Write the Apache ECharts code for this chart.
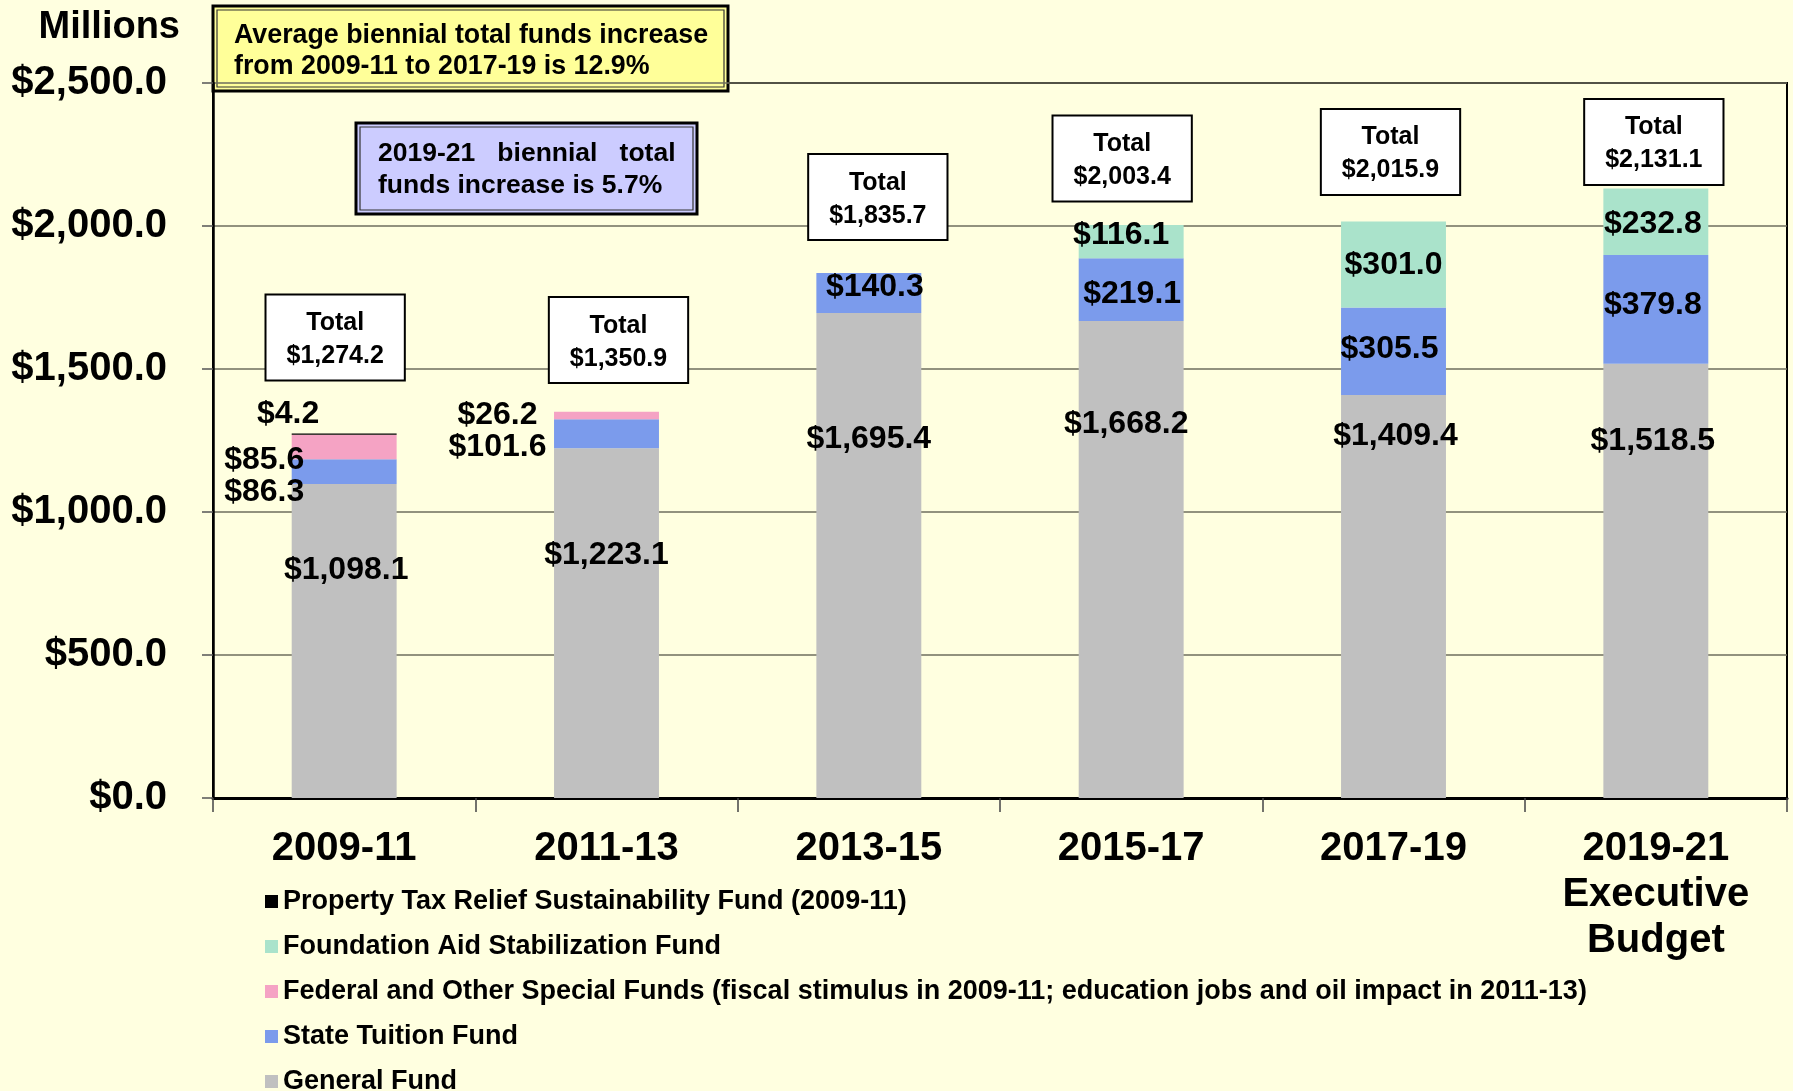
<!DOCTYPE html>
<html>
<head>
<meta charset="utf-8">
<script src="https://cdn.jsdelivr.net/npm/echarts@6/dist/echarts.min.js"></script>
<style>
  html, body { margin: 0; padding: 0; background: #FFFFE0; }
  #chart { width: 1793px; height: 1091px; }
</style>
</head>
<body>
<div id="chart"></div>
<script>
const chart = echarts.init(document.getElementById("chart"));

// biennia
const categories = ['2009-11', '2011-13', '2013-15', '2015-17', '2017-19', '2019-21\nExecutive\nBudget'];

// millions of dollars, stacked bottom to top
const generalFund = [1098.1, 1223.1, 1695.4, 1668.2, 1409.4, 1518.5];
const stateTuition = [86.3, 101.6, 140.3, 219.1, 305.5, 379.8];
const federalFunds = [85.6, 26.2, '-', '-', '-', '-'];
const foundationAid = ['-', '-', '-', 116.1, 301.0, 232.8];
const propertyTax = [4.2, '-', '-', '-', '-', '-'];
const totals = [1274.2, 1350.9, 1835.7, 2003.4, 2015.9, 2131.1];

const yTicks = [0, 500, 1000, 1500, 2000, 2500];

const names = {
    general: 'General Fund',
    tuition: 'State Tuition Fund',
    federal: 'Federal and Other Special Funds (fiscal stimulus in 2009-11; education jobs and oil impact in 2011-13)',
    foundation: 'Foundation Aid Stabilization Fund',
    property: 'Property Tax Relief Sustainability Fund (2009-11)'
};

// where the labels sit relative to the segment centre (px), like the original slide
const generalShift = [[2, -71], [0, -68], [0, -116], [-5, -135], [2, -160], [-3, -140]];
const tuitionShift = [[-80, 21], [-109, 14], [6, -6], [1, 5], [-4, -2], [-3, -4]];
const federalShift = [[-80, 13], [-109, 0]];
const foundationShift = [null, null, null, [-10, -6], [0, 1], [-3, 2]];
const propertyShift = [[-56, -20]];
// centre of the "Total" boxes, in axis units, and horizontal nudge
const totalBoxAt = [1610, 1601, 2101, 2236, 2259, 2294];
const totalBoxDx = [-9, 12, 9, -9, -3, -2];

const FONT = "'Liberation Sans', Arial, sans-serif";

function money(v) {
    return '$' + Number(v).toLocaleString('en-US', {minimumFractionDigits: 1, maximumFractionDigits: 1});
}

function withShift(values, shifts) {
    return values.map(function (v, i) {
        if (v === '-') return '-';
        let s = shifts[i];
        return s ? {value: v, label: {offset: s}} : {value: v};
    });
}

function barSeries(name, values, shifts, color) {
    return {
        name: name,
        type: 'bar',
        stack: 'funds',
        barWidth: '40%',
        data: withShift(values, shifts),
        itemStyle: {color: color},
        label: {
            show: true,
            position: 'inside',
            fontFamily: FONT,
            fontSize: 32,
            fontWeight: 'bold',
            color: '#000',
            formatter: function (p) { return money(p.value); }
        },
        emphasis: {disabled: true}
    };
}

function doubleBox(x, y, w, h, fill, lines, tx, ty, lh, fs) {
    let children = [
        {type: 'rect', shape: {x: x, y: y, width: w, height: h},
         style: {fill: fill, stroke: '#000', lineWidth: 3}},
        {type: 'rect', shape: {x: x + 4, y: y + 4, width: w - 8, height: h - 8},
         style: {fill: 'none', stroke: '#333', lineWidth: 1.2}}
    ];
    lines.forEach(function (t, i) {
        children.push({type: 'text', x: tx, y: ty + i * lh,
            style: {text: t, fill: '#000', fontFamily: FONT, fontSize: fs, fontWeight: 'bold',
                    verticalAlign: 'middle'}});
    });
    return {type: 'group', z: 100, children: children};
}

chart.setOption({
    backgroundColor: '#FFFFE0',
    animation: false,
    textStyle: {fontFamily: FONT},
    grid: {
        left: 213, right: 6, top: 83, bottom: 293,
        show: true, borderColor: '#000', borderWidth: 2, backgroundColor: 'transparent'
    },
    legend: {
        orient: 'vertical',
        left: 265,
        top: 888,
        height: 260,
        padding: 0,
        itemGap: 18,
        itemWidth: 13,
        itemHeight: 13,
        itemTextGap: 9,
        icon: 'rect',
        selectedMode: false,
        textStyle: {fontFamily: FONT, fontSize: 27, fontWeight: 'bold', color: '#000', lineHeight: 26},
        data: [names.property, names.foundation, names.federal, names.tuition, names.general]
    },
    xAxis: {
        type: 'category',
        data: categories,
        axisLine: {lineStyle: {color: '#000', width: 3}},
        axisTick: {show: true, interval: 0, length: 14, lineStyle: {color: '#444', width: 1.5}},
        axisLabel: {
            interval: 0, margin: 28,
            fontFamily: FONT, fontSize: 40, fontWeight: 'bold', color: '#000', lineHeight: 46
        }
    },
    yAxis: {
        type: 'value',
        min: yTicks[0],
        max: yTicks[yTicks.length - 1],
        interval: yTicks[1] - yTicks[0],
        name: 'Millions',
        nameLocation: 'end',
        nameGap: 0,
        nameTextStyle: {fontFamily: FONT, fontSize: 38, fontWeight: 'bold', color: '#000',
                        align: 'right', verticalAlign: 'bottom', padding: [0, 33, 36, 0]},
        axisLine: {show: true, lineStyle: {color: '#000', width: 2.5}},
        axisTick: {show: true, length: 11, lineStyle: {color: '#555', width: 1.5}},
        axisLabel: {
            margin: 46,
            fontFamily: FONT, fontSize: 40, fontWeight: 'bold', color: '#000',
            formatter: function (v) { return money(v); }
        },
        splitLine: {show: true, lineStyle: {color: '#6e6e5e', width: 1.5}}
    },
    series: [
        barSeries(names.general, generalFund, generalShift, '#C0C0C0'),
        barSeries(names.tuition, stateTuition, tuitionShift, '#7B9BEC'),
        barSeries(names.federal, federalFunds, federalShift, '#F5A3C4'),
        barSeries(names.foundation, foundationAid, foundationShift, '#AAE3CB'),
        barSeries(names.property, propertyTax, propertyShift, '#000000'),
        {
            name: 'totals',
            type: 'scatter',
            symbolSize: 0,
            z: 20,
            itemStyle: {opacity: 1},
            data: totals.map(function (t, i) {
                return {value: [i, totalBoxAt[i]], label: {offset: [totalBoxDx[i], 0]}};
            }),
            label: {
                show: true,
                position: 'inside',
                align: 'center',
                backgroundColor: '#FFFFFF',
                borderColor: '#000',
                borderWidth: 2,
                padding: [11, 20, 7, 20],
                formatter: function (p) { return '{t|Total}\n{t|' + money(totals[p.dataIndex]) + '}'; },
                rich: {
                    t: {fontFamily: FONT, fontSize: 25, fontWeight: 'bold', color: '#000',
                        lineHeight: 33, align: 'center'}
                }
            },
            emphasis: {disabled: true},
            tooltip: {show: false}
        }
    ],
    graphic: [
        doubleBox(213, 6, 515, 85, '#FFFF99',
            ['Average biennial total funds increase', 'from 2009-11 to 2017-19 is 12.9%'], 234, 36, 31, 26.8),
        doubleBox(356, 123, 341, 91, '#CCCCFF',
            ['2019-21   biennial   total', 'funds increase is 5.7%'], 378, 154, 32, 26.5)
    ]
});
</script>
</body>
</html>
